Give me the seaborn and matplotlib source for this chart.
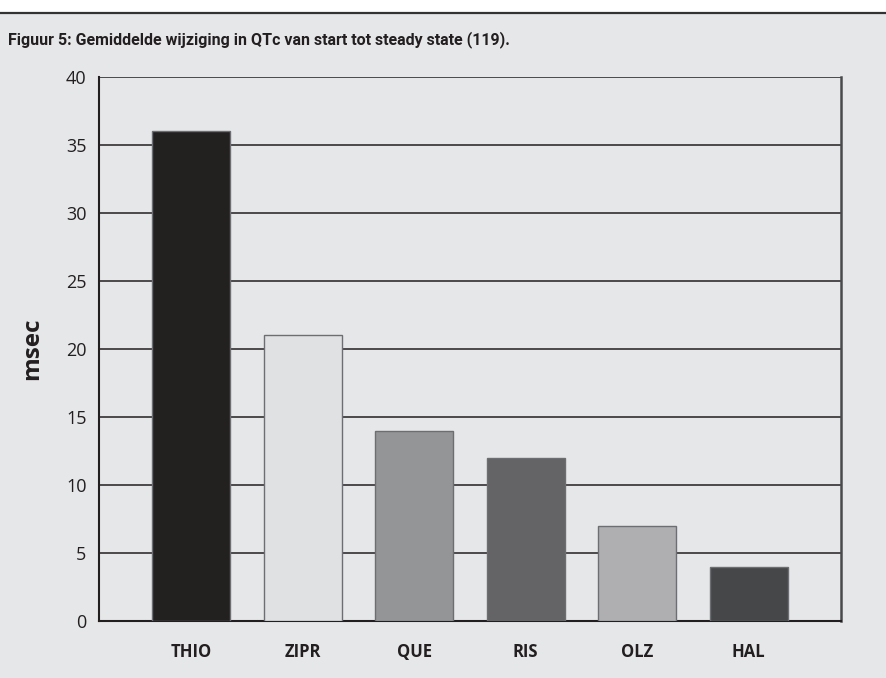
import pandas as pd
import matplotlib.pyplot as plt
import seaborn as sns
from matplotlib.patches import Rectangle
from matplotlib.lines import Line2D

drugs = ["THIO", "ZIPR", "QUE", "RIS", "OLZ", "HAL"]
qtc_change = [36, 21, 14, 12, 7, 4]
bar_colors = ["#231f20", "#e0e1e3", "#939598", "#646466", "#aeafb2", "#464749"]
yticks = [0, 5, 10, 15, 20, 25, 30, 35, 40]
title = "Figuur 5: Gemiddelde wijziging in QTc van start tot steady state (119)."

df = pd.DataFrame({"drug": drugs, "msec": qtc_change})

sns.set_style("white")
plt.rcParams["font.family"] = ["Open Sans", "DejaVu Sans"]

bg = "#e6e7e9"
ink = "#231f20"

fig = plt.figure(figsize=(8.86, 6.78), dpi=100, facecolor=bg)
# white strip and rule at the very top
fig.add_artist(Rectangle((0, 1 - 12 / 678), 1, 12 / 678, transform=fig.transFigure,
                         facecolor="white", edgecolor="none", zorder=0))
fig.add_artist(Line2D([0, 1], [1 - 13 / 678, 1 - 13 / 678], transform=fig.transFigure,
                      color="#333333", lw=1.6))

ax = fig.add_axes([99 / 886, 1 - 621 / 678, (841 - 99) / 886, (621 - 77) / 678])
ax.set_facecolor(bg)

sns.barplot(data=df, x="drug", y="msec", hue="drug", palette=bar_colors,
            order=drugs, hue_order=drugs, legend=False, width=0.7,
            edgecolor="#6d6e71", linewidth=1, ax=ax, zorder=3)

ax.set_ylim(0, 40)
ax.set_xlim(-0.83, 5.83)
ax.set_yticks(yticks)
ax.yaxis.grid(True, color=ink, linewidth=1.1, zorder=0)
ax.xaxis.grid(False)
ax.set_axisbelow(True)

for s in ["left", "bottom"]:
    ax.spines[s].set_color(ink)
    ax.spines[s].set_linewidth(1.5)
ax.spines["right"].set_color("#4a4a4c")
ax.spines["right"].set_linewidth(1.8)
ax.spines["top"].set_visible(False)

ax.tick_params(axis="y", length=0, pad=9, labelsize=13, labelcolor=ink)
ax.tick_params(axis="x", length=0, pad=16, labelsize=12, labelcolor=ink)
for lbl in ax.get_xticklabels():
    lbl.set_fontweight("bold")

ax.set_xlabel("")
ax.set_ylabel("msec", fontsize=17.5, fontweight="bold", color=ink, labelpad=16)

fig.text(8 / 886, 1 - 40 / 678, title, fontsize=11.5, fontweight="bold", color=ink,
         va="center", ha="left", family=["Roboto", "DejaVu Sans"])

fig.savefig("out.png", dpi=100, facecolor=bg)
